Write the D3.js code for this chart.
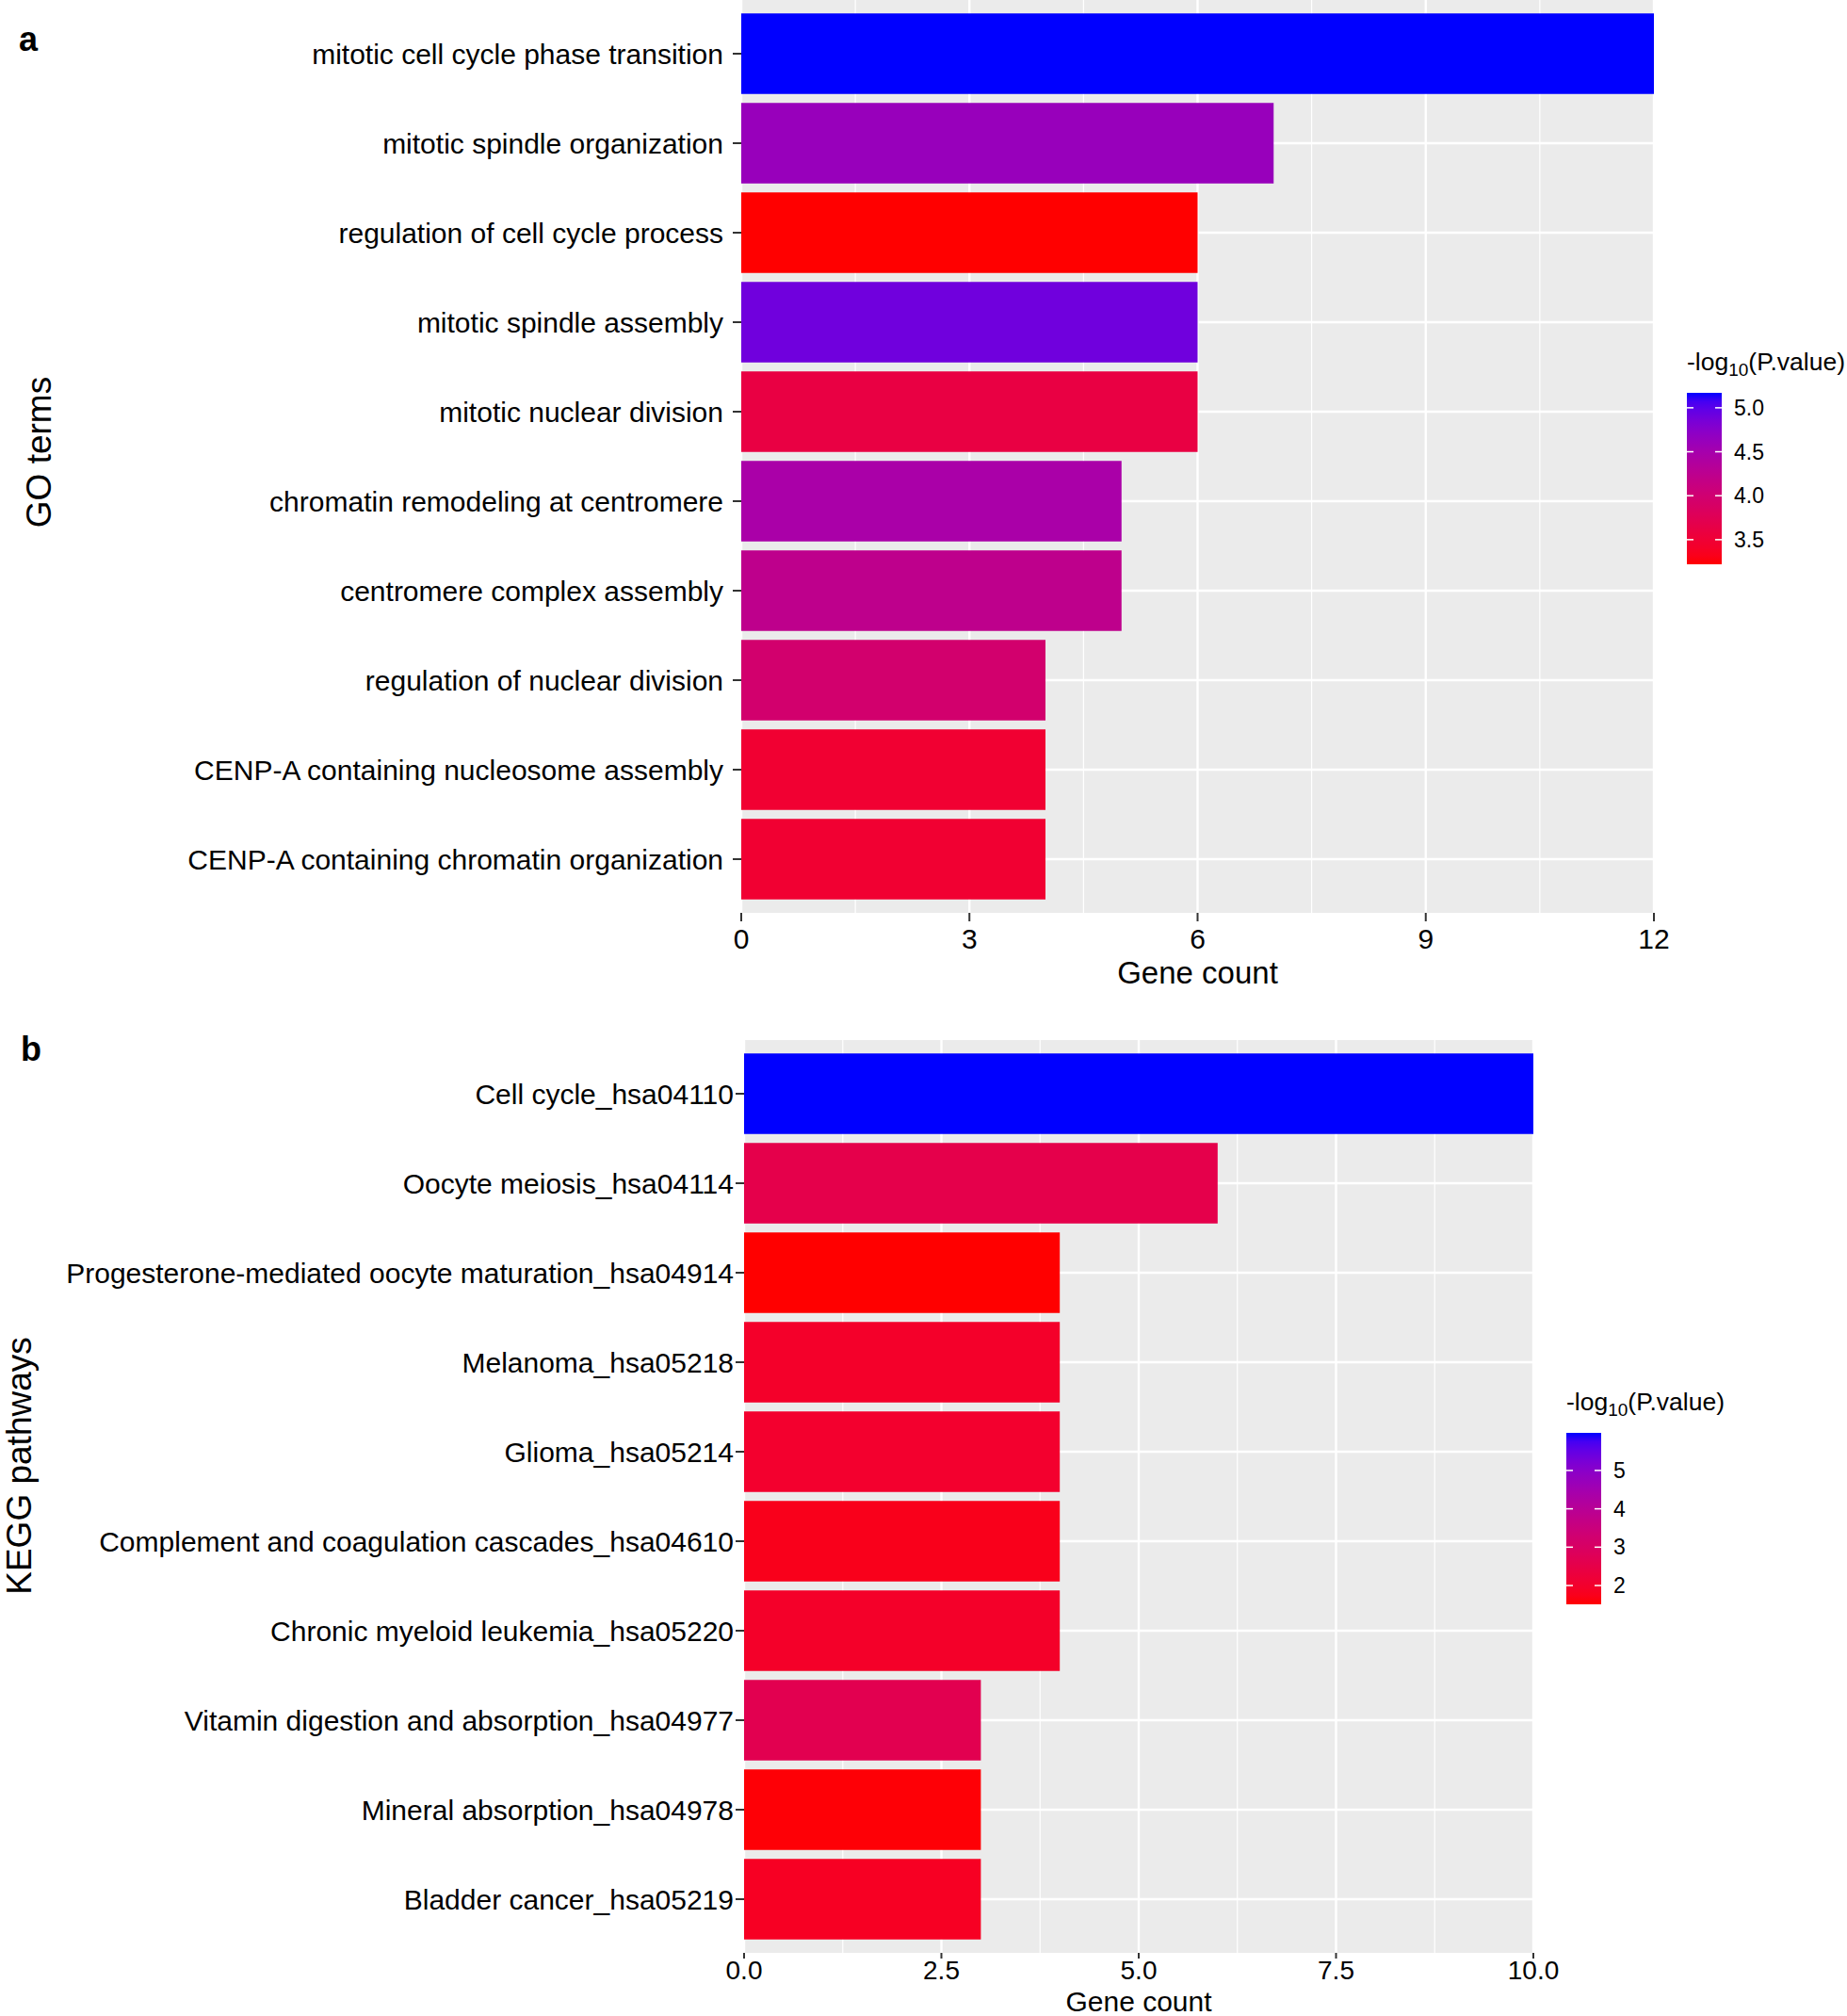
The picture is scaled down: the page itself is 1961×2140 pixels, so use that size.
<!DOCTYPE html>
<html><head><meta charset="utf-8">
<script src="https://cdn.jsdelivr.net/npm/d3@7"></script>
<style>
body{margin:0;background:#fff}
svg{display:block}
text{font-family:"Liberation Sans",Arial,Helvetica,sans-serif;fill:#000}
</style>
</head><body>
<svg id="chart" width="1961" height="2140"></svg>
<script>
// ---- Data ----
const goTerms = [
  "mitotic cell cycle phase transition",
  "mitotic spindle organization",
  "regulation of cell cycle process",
  "mitotic spindle assembly",
  "mitotic nuclear division",
  "chromatin remodeling at centromere",
  "centromere complex assembly",
  "regulation of nuclear division",
  "CENP-A containing nucleosome assembly",
  "CENP-A containing chromatin organization"
];
const goCounts = [12, 7, 6, 6, 6, 5, 5, 4, 4, 4];
const goLogP   = [5.17, 4.62, 3.22, 4.90, 3.61, 4.46, 4.23, 3.96, 3.47, 3.47];
const goXTicks = [0, 3, 6, 9, 12];
const goXMinor = [1.5, 4.5, 7.5, 10.5];
const goLegendTicks = [3.5, 4.0, 4.5, 5.0];

const keggTerms = [
  "Cell cycle_hsa04110",
  "Oocyte meiosis_hsa04114",
  "Progesterone-mediated oocyte maturation_hsa04914",
  "Melanoma_hsa05218",
  "Glioma_hsa05214",
  "Complement and coagulation cascades_hsa04610",
  "Chronic myeloid leukemia_hsa05220",
  "Vitamin digestion and absorption_hsa04977",
  "Mineral absorption_hsa04978",
  "Bladder cancer_hsa05219"
];
const keggCounts = [10, 6, 4, 4, 4, 4, 4, 3, 3, 3];
const keggLogP   = [5.98, 2.55, 1.51, 1.96, 2.02, 1.75, 1.95, 2.65, 1.55, 1.85];
const keggXTicks = [0, 2.5, 5, 7.5, 10];
const keggXMinor = [1.25, 3.75, 6.25, 8.75];
const keggLegendTicks = [2, 3, 4, 5];

const svg = d3.select("#chart");
const defs = svg.append("defs");

function drawPanel(cfg) {
  const g = svg.append("g");
  const x = d3.scaleLinear().domain(cfg.xDomain).range([cfg.left, cfg.right]);
  const y = d3.scaleBand().domain(cfg.terms).range([cfg.top, cfg.bottom])
              .paddingInner(0.1).paddingOuter(0.15);
  const ext = d3.extent(cfg.logp);
  const color = d3.scaleLinear().domain(ext).range(["red", "blue"]).interpolate(d3.interpolateLab);

  // panel background
  g.append("rect").attr("x", cfg.left).attr("y", cfg.top)
    .attr("width", cfg.right - cfg.left).attr("height", cfg.bottom - cfg.top)
    .attr("fill", "#EBEBEB");
  // minor grid
  g.selectAll(".minor").data(cfg.minor).join("line")
    .attr("x1", d => x(d)).attr("x2", d => x(d))
    .attr("y1", cfg.top).attr("y2", cfg.bottom)
    .attr("stroke", "#fff").attr("stroke-width", 1.2);
  // major grid vertical
  g.selectAll(".majorx").data(cfg.ticks).join("line")
    .attr("x1", d => x(d)).attr("x2", d => x(d))
    .attr("y1", cfg.top).attr("y2", cfg.bottom)
    .attr("stroke", "#fff").attr("stroke-width", 2.4);
  // major grid horizontal
  g.selectAll(".majory").data(cfg.terms).join("line")
    .attr("x1", cfg.left).attr("x2", cfg.right)
    .attr("y1", d => y(d) + y.bandwidth() / 2).attr("y2", d => y(d) + y.bandwidth() / 2)
    .attr("stroke", "#fff").attr("stroke-width", 2.4);
  // bars
  g.selectAll(".bar").data(cfg.terms).join("rect")
    .attr("x", x(0)).attr("y", d => y(d))
    .attr("width", (d, i) => x(cfg.counts[i]) - x(0))
    .attr("height", y.bandwidth())
    .attr("fill", (d, i) => color(cfg.logp[i]));

  // y axis ticks and labels
  g.selectAll(".yt").data(cfg.terms).join("line")
    .attr("x1", cfg.left - 9).attr("x2", cfg.left)
    .attr("y1", d => y(d) + y.bandwidth() / 2).attr("y2", d => y(d) + y.bandwidth() / 2)
    .attr("stroke", "#333").attr("stroke-width", 2);
  g.selectAll(".yl").data(cfg.terms).join("text")
    .attr("x", cfg.left - cfg.labelGap)
    .attr("y", d => y(d) + y.bandwidth() / 2)
    .attr("text-anchor", "end").attr("dominant-baseline", "central")
    .attr("font-size", cfg.axisFont)
    .text(d => d);

  // x axis ticks and labels
  g.selectAll(".xt").data(cfg.ticks).join("line")
    .attr("x1", d => x(d)).attr("x2", d => x(d))
    .attr("y1", cfg.bottom).attr("y2", cfg.bottom + cfg.xTickLen)
    .attr("stroke", "#333").attr("stroke-width", 2);
  g.selectAll(".xl").data(cfg.ticks).join("text")
    .attr("x", d => x(d)).attr("y", cfg.tickLabelY)
    .attr("text-anchor", "middle").attr("dominant-baseline", "central")
    .attr("font-size", cfg.xTickFont)
    .text(d => cfg.tickFmt(d));

  // axis titles
  g.append("text").attr("x", (cfg.left + cfg.right) / 2).attr("y", cfg.xTitleY)
    .attr("text-anchor", "middle").attr("dominant-baseline", "central")
    .attr("font-size", cfg.xTitleFont).text("Gene count");
  g.append("text")
    .attr("transform", `translate(${cfg.yTitleX},${cfg.yTitleY}) rotate(-90)`)
    .attr("text-anchor", "middle").attr("dominant-baseline", "central")
    .attr("font-size", 37).text(cfg.yTitle);

  // panel tag
  g.append("text").attr("x", cfg.tagX).attr("y", cfg.tagY)
    .attr("font-size", 36).attr("font-weight", "bold").text(cfg.tag);

  // legend
  const L = cfg.legend;
  const gradId = "grad" + cfg.tag;
  const grad = defs.append("linearGradient").attr("id", gradId)
    .attr("x1", 0).attr("y1", 1).attr("x2", 0).attr("y2", 0);
  d3.range(0, 1.0001, 0.05).forEach(t => {
    grad.append("stop").attr("offset", t)
      .attr("stop-color", color(ext[0] + t * (ext[1] - ext[0])));
  });
  const ly = d3.scaleLinear().domain(ext).range([L.bottom, L.top]);
  const title = g.append("text").attr("x", L.x).attr("y", L.titleY)
    .attr("font-size", 26.5);
  title.append("tspan").text("-log");
  title.append("tspan").attr("font-size", 19).attr("dy", 6).text("10");
  title.append("tspan").attr("dy", -6).text("(P.value)");
  g.append("rect").attr("x", L.x).attr("y", L.top)
    .attr("width", L.w).attr("height", L.bottom - L.top)
    .attr("fill", `url(#${gradId})`);
  g.selectAll(".lt1").data(cfg.legendTicks).join("line")
    .attr("x1", L.x).attr("x2", L.x + 7)
    .attr("y1", d => ly(d)).attr("y2", d => ly(d))
    .attr("stroke", "#fff").attr("stroke-width", 1.5);
  g.selectAll(".lt2").data(cfg.legendTicks).join("line")
    .attr("x1", L.x + L.w - 7).attr("x2", L.x + L.w)
    .attr("y1", d => ly(d)).attr("y2", d => ly(d))
    .attr("stroke", "#fff").attr("stroke-width", 1.5);
  g.selectAll(".ll").data(cfg.legendTicks).join("text")
    .attr("x", L.x + L.w + 13).attr("y", d => ly(d))
    .attr("dominant-baseline", "central").attr("font-size", 23)
    .text(d => cfg.legendFmt(d));
}

drawPanel({
  tag: "a", tagX: 20, tagY: 54,
  terms: goTerms, counts: goCounts, logp: goLogP,
  xDomain: [0, 12], ticks: goXTicks, minor: goXMinor, tickFmt: d3.format("d"),
  left: 787, right: 1756, top: 0, bottom: 969,
  labelGap: 19, axisFont: 30, xTickFont: 30, xTickLen: 9, tickLabelY: 996, xTitleY: 1032, xTitleFont: 33,
  yTitle: "GO terms", yTitleX: 41, yTitleY: 480,
  legendTicks: goLegendTicks, legendFmt: d3.format(".1f"),
  legend: { x: 1791, w: 37, top: 417, bottom: 599, titleY: 393 }
});

drawPanel({
  tag: "b", tagX: 22, tagY: 1126,
  terms: keggTerms, counts: keggCounts, logp: keggLogP,
  xDomain: [0, 10], ticks: keggXTicks, minor: keggXMinor, tickFmt: d3.format(".1f"),
  left: 790, right: 1628, top: 1104, bottom: 2073,
  labelGap: 11, axisFont: 30, xTickFont: 28, xTickLen: 6, tickLabelY: 2091, xTitleY: 2124, xTitleFont: 30,
  yTitle: "KEGG pathways", yTitleX: 20, yTitleY: 1556,
  legendTicks: keggLegendTicks, legendFmt: d3.format("d"),
  legend: { x: 1663, w: 37, top: 1521, bottom: 1703, titleY: 1497 }
});
</script>
</body></html>
